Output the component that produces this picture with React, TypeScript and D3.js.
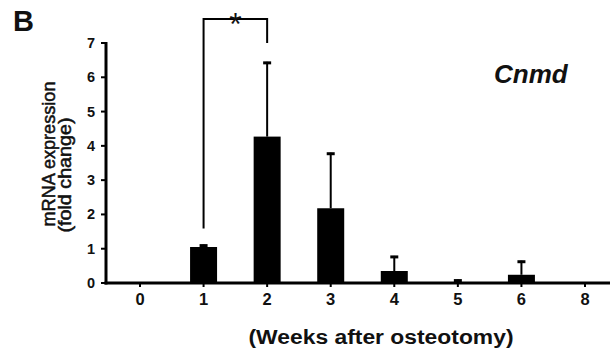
import React from "react";
import * as d3 from "d3";

const categories = ["0", "1", "2", "3", "4", "5", "6", "8"];
const means = [0, 1.05, 4.27, 2.18, 0.35, 0.02, 0.24, 0];
const errUpper = [0, 0.07, 2.18, 1.62, 0.44, 0.08, 0.41, 0];
const yTicks = [0, 1, 2, 3, 4, 5, 6, 7];
const geneName = "Cnmd";
const panelLabel = "B";
const xTitle = "(Weeks after osteotomy)";
const yTitle1 = "mRNA expression";
const yTitle2 = "(fold change)";
const sigPair = ["1", "2"];
const sigTop = 7.7;

const W = 610;
const H = 352;
const FONT = "'Liberation Sans', Arial, Helvetica, sans-serif";

export default function App() {
  const x = d3.scalePoint<string>().domain(categories).range([140, 585]);
  const y = d3.scaleLinear().domain([0, 7]).range([283, 43]);
  const barW = 27;
  const axisX = 106;
  const y0 = y(0);

  const b1 = x(sigPair[0])!;
  const b2 = x(sigPair[1])!;
  const i1 = categories.indexOf(sigPair[0]);
  const bracketY = y(sigTop);

  return (
    <svg
      width={W}
      height={H}
      style={{ position: "absolute", left: 0, top: 0, background: "#fff" }}
      fontFamily={FONT}
    >
      <rect x={0} y={0} width={W} height={H} fill="#fff" />
      {/* bars */}
      {categories.map((c, i) =>
        means[i] > 0 ? (
          <rect
            key={"b" + c}
            x={x(c)! - barW / 2}
            y={y(means[i])}
            width={barW}
            height={y0 - y(means[i])}
            fill="#000"
          />
        ) : null
      )}
      {/* error bars */}
      {categories.map((c, i) =>
        errUpper[i] > 0 ? (
          <g key={"e" + c} stroke="#000">
            <line
              x1={x(c)!}
              x2={x(c)!}
              y1={y(means[i])}
              y2={y(means[i] + errUpper[i])}
              strokeWidth={2}
            />
            <line
              x1={x(c)! - 4}
              x2={x(c)! + 4}
              y1={y(means[i] + errUpper[i]) + 1}
              y2={y(means[i] + errUpper[i]) + 1}
              strokeWidth={3}
            />
          </g>
        ) : null
      )}
      {/* y axis */}
      <line x1={axisX} x2={axisX} y1={y(7) - 1} y2={y0 + 1.5} stroke="#000" strokeWidth={3} />
      {yTicks.map((t) => (
        <g key={"yt" + t}>
          <line x1={axisX - 5} x2={axisX} y1={y(t)} y2={y(t)} stroke="#000" strokeWidth={2} />
          <text
            x={95}
            y={y(t) + 5}
            textAnchor="end"
            fontSize={14.5}
            fontWeight="bold"
            fill="#111"
          >
            {t}
          </text>
        </g>
      ))}
      {/* x axis */}
      <line x1={axisX - 1.5} x2={W} y1={y0} y2={y0} stroke="#000" strokeWidth={3} />
      {categories.map((c) => (
        <g key={"xt" + c}>
          <line x1={x(c)!} x2={x(c)!} y1={y0} y2={y0 + 4} stroke="#000" strokeWidth={2} />
          <text
            x={x(c)!}
            y={305}
            textAnchor="middle"
            fontSize={16.5}
            fontWeight="bold"
            fill="#111"
          >
            {c}
          </text>
        </g>
      ))}
      {/* axis titles */}
      <text
        x={381}
        y={344}
        textAnchor="middle"
        fontSize={20}
        fontWeight="bold"
        fill="#111"
        textLength={265}
        lengthAdjust="spacingAndGlyphs"
      >
        {xTitle}
      </text>
      <text
        transform={`translate(55,154) rotate(-90)`}
        textAnchor="middle"
        fontSize={17.5}
        fill="#111"
        stroke="#111"
        strokeWidth={0.5}
        textLength={145}
        lengthAdjust="spacingAndGlyphs"
      >
        {yTitle1}
      </text>
      <text
        transform={`translate(71,175) rotate(-90)`}
        textAnchor="middle"
        fontSize={17.5}
        fill="#111"
        stroke="#111"
        strokeWidth={0.5}
        textLength={115}
        lengthAdjust="spacingAndGlyphs"
      >
        {yTitle2}
      </text>
      {/* significance bracket */}
      <path
        d={`M${b1},${y(means[i1] + errUpper[i1]) - 16} V${bracketY} H${b2} V${y(7)}`}
        fill="none"
        stroke="#000"
        strokeWidth={2}
      />
      <text x={(b1 + b2) / 2} y={35} textAnchor="middle" fontSize={32} fill="#111">
        *
      </text>
      {/* gene label */}
      <text x={494} y={83} fontSize={26} fontWeight="bold" fontStyle="italic" fill="#111">
        {geneName}
      </text>
      {/* panel label */}
      <text x={13} y={31} fontSize={29} fontWeight="bold" fill="#111">
        {panelLabel}
      </text>
    </svg>
  );
}
